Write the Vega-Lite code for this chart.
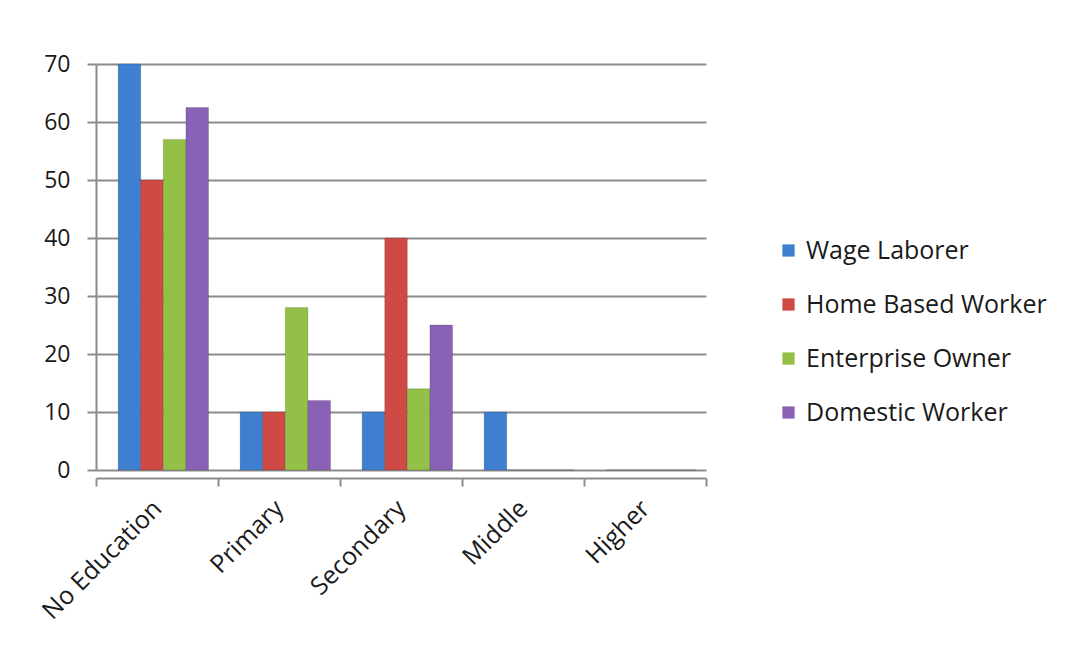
{
  "$schema": "https://vega.github.io/schema/vega-lite/v6.json",
  "autosize": {"type": "none"},
  "padding": {"left": 96, "top": 64, "right": 368, "bottom": 182},
  "width": 610,
  "height": 406,
  "background": "white",
  "config": {
    "view": {"stroke": null},
    "font": "Open Sans"
  },
  "data": {
    "values": [
      {"level": "No Education", "group": "Wage Laborer", "value": 70},
      {"level": "No Education", "group": "Home Based Worker", "value": 50},
      {"level": "No Education", "group": "Enterprise Owner", "value": 57},
      {"level": "No Education", "group": "Domestic Worker", "value": 62.5},
      {"level": "Primary", "group": "Wage Laborer", "value": 10},
      {"level": "Primary", "group": "Home Based Worker", "value": 10},
      {"level": "Primary", "group": "Enterprise Owner", "value": 28},
      {"level": "Primary", "group": "Domestic Worker", "value": 12},
      {"level": "Secondary", "group": "Wage Laborer", "value": 10},
      {"level": "Secondary", "group": "Home Based Worker", "value": 40},
      {"level": "Secondary", "group": "Enterprise Owner", "value": 14},
      {"level": "Secondary", "group": "Domestic Worker", "value": 25},
      {"level": "Middle", "group": "Wage Laborer", "value": 10},
      {"level": "Middle", "group": "Home Based Worker", "value": 0},
      {"level": "Middle", "group": "Enterprise Owner", "value": 0},
      {"level": "Middle", "group": "Domestic Worker", "value": 0},
      {"level": "Higher", "group": "Wage Laborer", "value": 0},
      {"level": "Higher", "group": "Home Based Worker", "value": 0},
      {"level": "Higher", "group": "Enterprise Owner", "value": 0},
      {"level": "Higher", "group": "Domestic Worker", "value": 0}
    ]
  },
  "mark": {"type": "bar", "stroke": "#00000026", "strokeWidth": 1},
  "encoding": {
    "x": {
      "field": "level",
      "type": "nominal",
      "sort": ["No Education", "Primary", "Secondary", "Middle", "Higher"],
      "scale": {"paddingInner": 0, "paddingOuter": 0},
      "axis": {
        "title": null,
        "labelAngle": -45,
        "labelAlign": "right",
        "labelBaseline": "middle",
        "labelFontSize": 25,
        "labelColor": "#1a1a1a",
        "labelPadding": 18,
        "tickBand": "extent",
        "tickColor": "#8c8c8c",
        "tickSize": 8,
        "tickWidth": 2,
        "domainColor": "#8c8c8c",
        "domainWidth": 2,
        "offset": 8
      }
    },
    "xOffset": {
      "field": "group",
      "type": "nominal",
      "sort": ["Wage Laborer", "Home Based Worker", "Enterprise Owner", "Domestic Worker"],
      "scale": {"paddingInner": 0, "paddingOuter": 0.7, "align": 0.7}
    },
    "y": {
      "field": "value",
      "type": "quantitative",
      "scale": {"domain": [0, 70], "nice": false},
      "axis": {
        "title": null,
        "values": [0, 10, 20, 30, 40, 50, 60, 70],
        "labelFontSize": 23,
        "labelColor": "#1a1a1a",
        "labelPadding": 17,
        "grid": true,
        "gridColor": "#8c8c8c",
        "gridWidth": 2,
        "tickColor": "#8c8c8c",
        "tickSize": 9,
        "tickWidth": 2,
        "domainColor": "#8c8c8c",
        "domainWidth": 2
      }
    },
    "color": {
      "field": "group",
      "type": "nominal",
      "sort": ["Wage Laborer", "Home Based Worker", "Enterprise Owner", "Domestic Worker"],
      "scale": {
        "domain": ["Wage Laborer", "Home Based Worker", "Enterprise Owner", "Domestic Worker"],
        "range": ["#3f7fcf", "#cf4a45", "#93c047", "#8a62b5"]
      },
      "legend": {
        "title": null,
        "orient": "none",
        "legendX": 680,
        "legendY": 174,
        "symbolType": "square",
        "symbolSize": 150,
        "symbolStrokeWidth": 0,
        "labelFontSize": 25,
        "labelColor": "#1a1a1a",
        "labelLimit": 400,
        "rowPadding": 28,
        "labelOffset": 5
      }
    }
  }
}
